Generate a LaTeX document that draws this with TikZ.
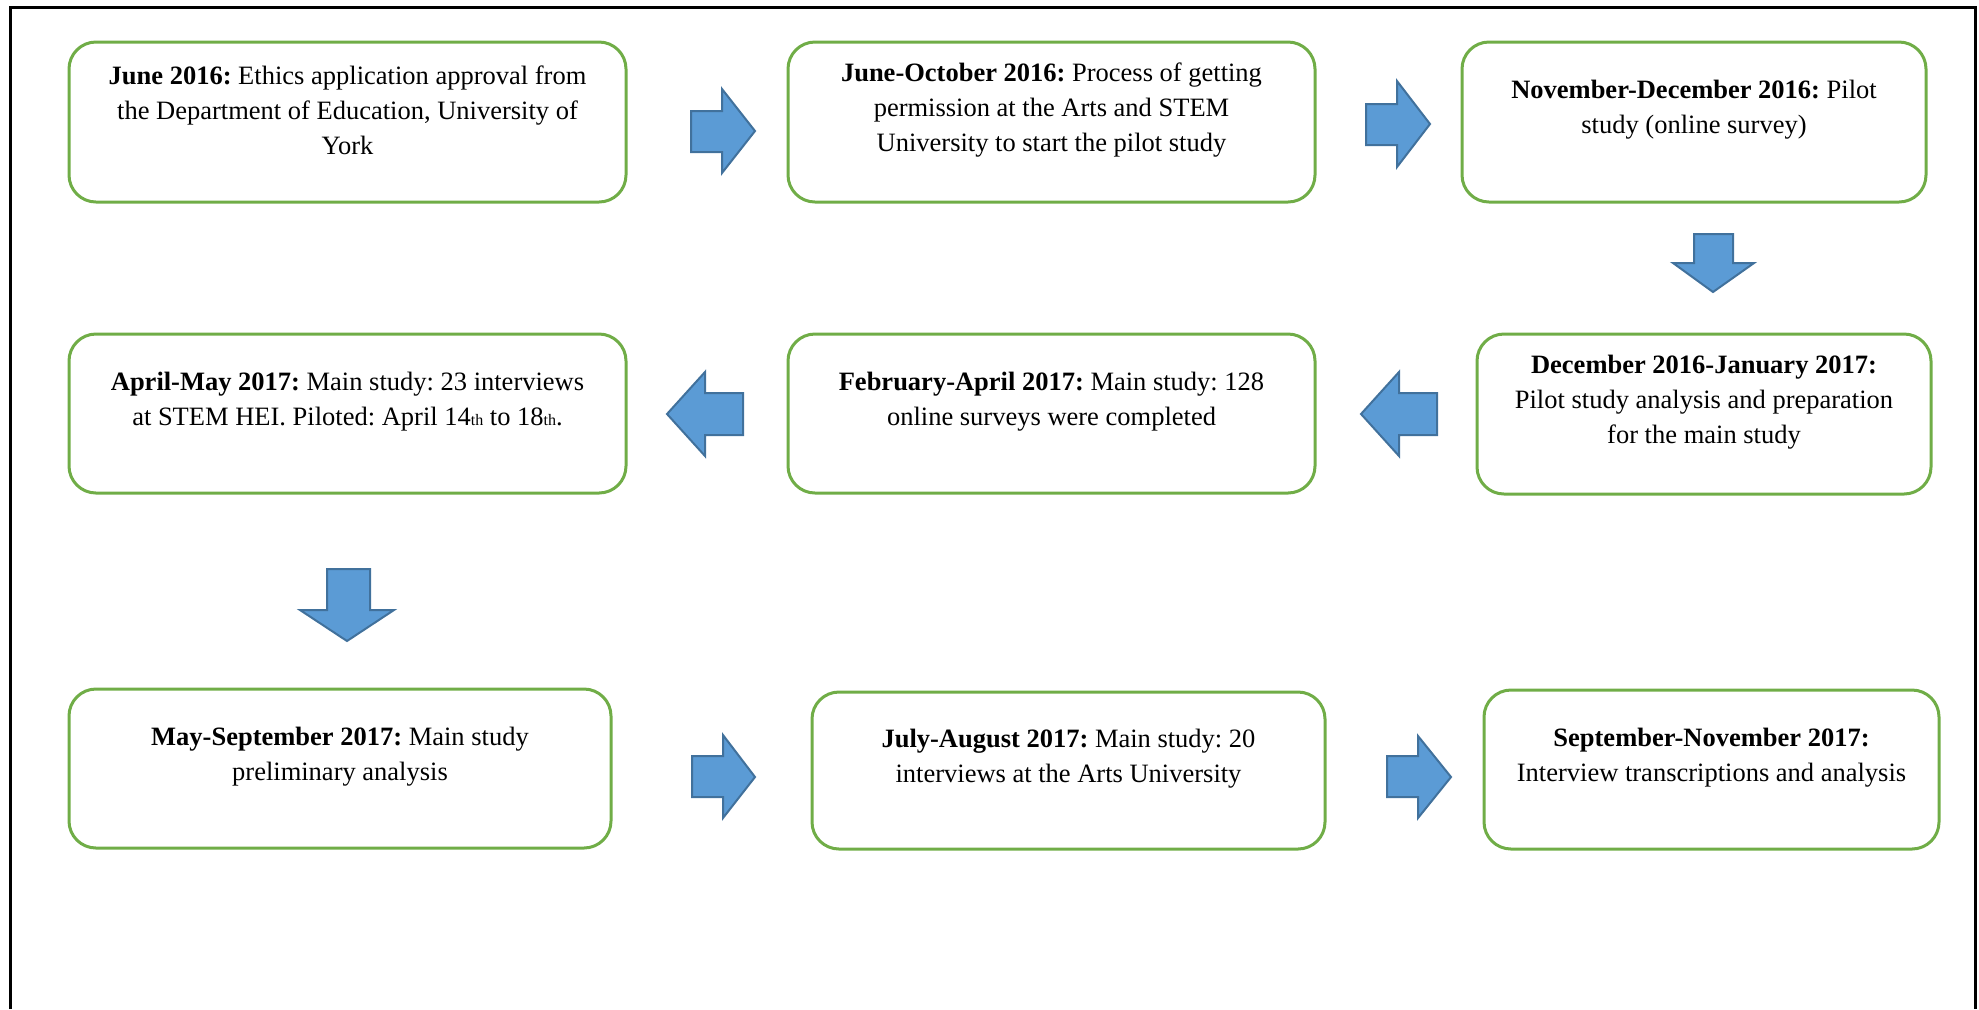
\documentclass[tikz,border=0pt]{standalone}
\usepackage{fontspec}
\setmainfont{Liberation Serif}
\usetikzlibrary{fit}
\definecolor{boxgreen}{HTML}{70AD47}
\definecolor{arrowfill}{HTML}{5B9BD5}
\definecolor{arrowedge}{HTML}{41719C}
\tikzset{
  stage/.style={draw=boxgreen, line width=1.5pt, rounded corners=13.5pt, inner sep=0pt},
  stagetext/.style={align=center, font=\fontsize{13.25}{17.5}\selectfont, inner sep=0pt, yshift=6pt},
  barrow/.style={fill=arrowfill, draw=arrowedge, line width=1pt, line join=miter},
  framestyle/.style={line width=1.5pt, draw=black}
}
\newcommand{\smallsup}[1]{{\fontsize{8}{8}\selectfont #1}}
\frenchspacing
\begin{document}
\begin{tikzpicture}[x=0.5pt, y=-0.5pt]
\useasboundingbox (0,0) rectangle (1979,1009);
\draw[framestyle] (10,1009) -- (10,7) -- (1975,7) -- (1975,1009);

% Row 1
\node[stage, fit={(69,42) (626,202)}] (b1) {};
\node[stagetext] (t1) at (b1.center) {\textbf{June 2016:} Ethics application approval from\\the Department of Education, University of\\York};
\node[stage, fit={(788,42) (1315,202)}] (b2) {};
\node[stagetext] (t2) at (b2.center) {\textbf{June-October 2016:} Process of getting\\permission at the Arts and STEM\\University to start the pilot study};
\node[stage, fit={(1462,42) (1926,202)}] (b3) {};
\node[stagetext] (t3) at (b3.center) {\textbf{November-December 2016:} Pilot\\study (online survey)};

% Row 2
\node[stage, fit={(69,334) (626,493)}] (b4) {};
\node[stagetext] (t4) at (b4.center) {\textbf{April-May 2017:} Main study: 23 interviews\\at STEM HEI. Piloted: April 14\smallsup{th} to 18\smallsup{th}.};
\node[stage, fit={(788,334) (1315,493)}] (b5) {};
\node[stagetext] (t5) at (b5.center) {\textbf{February-April 2017:} Main study: 128\\online surveys were completed};
\node[stage, fit={(1477,334) (1931,494)}] (b6) {};
\node[stagetext] (t6) at (b6.center) {\textbf{December 2016-January 2017:}\\Pilot study analysis and preparation\\for the main study};

% Row 3
\node[stage, fit={(69,689) (611,848)}] (b7) {};
\node[stagetext] (t7) at (b7.center) {\textbf{May-September 2017:} Main study\\preliminary analysis};
\node[stage, fit={(812,692) (1325,849)}] (b8) {};
\node[stagetext] (t8) at (b8.center) {\textbf{July-August 2017:} Main study: 20\\interviews at the Arts University};
\node[stage, fit={(1484,690) (1939,849)}] (b9) {};
\node[stagetext] (t9) at (b9.center) {\textbf{September-November 2017:}\\Interview transcriptions and analysis};

% Block arrows
\draw[barrow] (691,111) -- (722,111) -- (722,89) -- (755,131) -- (722,173) -- (722,152) -- (691,152) -- cycle;
\draw[barrow] (1366,104) -- (1397,104) -- (1397,81) -- (1430,124) -- (1397,167) -- (1397,145) -- (1366,145) -- cycle;
\draw[barrow] (1694,234) -- (1733,234) -- (1733,263) -- (1754,263) -- (1713,292) -- (1673,263) -- (1694,263) -- cycle;
\draw[barrow] (743,393) -- (705,393) -- (705,372) -- (667,414) -- (705,456) -- (705,435) -- (743,435) -- cycle;
\draw[barrow] (1437,393) -- (1399,393) -- (1399,372) -- (1361,414) -- (1399,456) -- (1399,435) -- (1437,435) -- cycle;
\draw[barrow] (327,569) -- (370,569) -- (370,610) -- (394,610) -- (347,641) -- (300,610) -- (327,610) -- cycle;
\draw[barrow] (692,756) -- (723,756) -- (723,735) -- (755,777) -- (723,818) -- (723,797) -- (692,797) -- cycle;
\draw[barrow] (1387,756) -- (1418,756) -- (1418,736) -- (1451,777) -- (1418,818) -- (1418,797) -- (1387,797) -- cycle;
\end{tikzpicture}
\end{document}
